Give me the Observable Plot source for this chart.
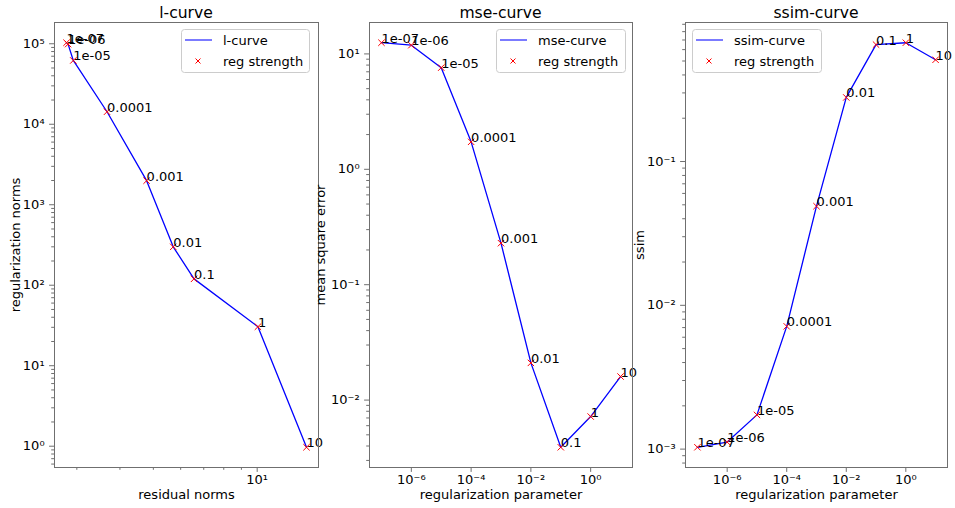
<!DOCTYPE html>
<html><head><meta charset="utf-8">
<script src="https://cdn.jsdelivr.net/npm/d3@7"></script>
<script src="https://cdn.jsdelivr.net/npm/@observablehq/plot@0.6"></script>
<style>
body{margin:0;background:#fff;font-family:"DejaVu Sans",sans-serif;}
#fig{position:relative;width:955px;height:508px;overflow:hidden;background:#fff;}
.panel{position:absolute;top:0;}
.title{position:absolute;top:6px;text-align:center;font-size:15.6px;line-height:15.6px;color:#000;white-space:nowrap;}
.legend{position:absolute;}
.legend text{font-family:"DejaVu Sans",sans-serif;font-size:13px;fill:#000;}
</style></head><body><div id="fig"></div>
<script>
// ---- data ----
const pointLabels = ["1e-07","1e-06","1e-05","0.0001","0.001","0.01","0.1","1","10"];
const lambdas = [1e-7, 1e-6, 1e-5, 1e-4, 1e-3, 1e-2, 1e-1, 1, 10];
const residualNorms = [2.80, 2.83, 2.93, 3.67, 4.78, 5.71, 6.56, 10.05, 13.9];
const regularizationNorms = [103000, 99000, 62000, 14300, 1990, 300, 120, 30.5, 0.97];
const mse = [12.5, 11.9, 7.6, 1.73, 0.229, 0.021, 0.0039, 0.0072, 0.016];
const ssim = [0.00103, 0.00112, 0.00173, 0.00714, 0.0489, 0.279, 0.65, 0.67, 0.51];

const panelTitles = ["l-curve", "mse-curve", "ssim-curve"];
const xLabels = ["residual norms", "regularization parameter", "regularization parameter"];
const yLabels = ["regularization norms", "mean square error", "ssim"];
const markerName = "reg strength";
const majorXTicks = [[10], [1e-6, 1e-4, 1e-2, 1], [1e-6, 1e-4, 1e-2, 1]];
const majorYTicks = [[1, 10, 100, 1e3, 1e4, 1e5], [1e-2, 1e-1, 1, 10], [1e-3, 1e-2, 1e-1]];
const showMinorX = [true, false, false];

// ---- layout ----
const panelLeft = [0, 315, 631];
const frameWidth = [264, 263, 262];
const mL = 54, mR = 2, mT = 22, mB = 41, H = 508;
const axisColor = "#6f6f6f";
const yLabelOffset = [44, 54, 51];
const legendBox = [[181, 29, 129], [496, 29, 130], [692, 29, 130]];

const sup = {"-":"\u207B","0":"\u2070","1":"\u00B9","2":"\u00B2","3":"\u00B3","4":"\u2074","5":"\u2075","6":"\u2076","7":"\u2077","8":"\u2078","9":"\u2079"};
const fmt = v => "10" + String(Math.round(Math.log10(v))).split("").map(c => sup[c]).join("");

function padLog(vals) {
  const lo = Math.log10(d3.min(vals)), hi = Math.log10(d3.max(vals));
  const p = 0.05 * (hi - lo);
  return [Math.pow(10, lo - p), Math.pow(10, hi + p)];
}
function minorTicks(domain) {
  const out = [];
  const a = Math.floor(Math.log10(domain[0])), b = Math.ceil(Math.log10(domain[1]));
  for (let k = a; k <= b; k++) for (let m = 2; m <= 9; m++) {
    const v = m * Math.pow(10, k);
    if (v >= domain[0] && v <= domain[1]) out.push(v);
  }
  return out;
}

const fig = document.getElementById("fig");
const xsAll = [residualNorms, lambdas, lambdas];
const ysAll = [regularizationNorms, mse, ssim];

for (let i = 0; i < 3; i++) {
  const xs = xsAll[i], ys = ysAll[i];
  const data = pointLabels.map((label, j) => ({label, x: xs[j], y: ys[j]}));
  const xd = padLog(xs), yd = padLog(ys);
  const chart = Plot.plot({
    width: mL + frameWidth[i] + mR,
    height: H,
    marginLeft: mL, marginRight: mR, marginTop: mT, marginBottom: mB,
    x: {type: "log", domain: xd},
    y: {type: "log", domain: yd},
    style: {fontFamily: "DejaVu Sans", fontSize: "13px", overflow: "visible", background: "transparent", color: "#000"},
    marks: [
      showMinorX[i] ? Plot.axisX(minorTicks(xd), {tickSize: 2.8, tickFormat: () => "", stroke: axisColor, label: null}) : null,
      Plot.axisX(majorXTicks[i], {tickSize: 4.9, tickPadding: 2, tickFormat: fmt, stroke: axisColor, fill: "#000",
        label: xLabels[i], labelAnchor: "center", labelArrow: "none", labelOffset: 31}),
      Plot.axisY(minorTicks(yd), {tickSize: 2.8, tickFormat: () => "", stroke: axisColor, label: null}),
      Plot.axisY(majorYTicks[i], {tickSize: 4.9, tickPadding: 5, tickFormat: fmt, stroke: axisColor, fill: "#000",
        label: yLabels[i], labelAnchor: "center", labelArrow: "none", labelOffset: yLabelOffset[i]}),
      Plot.line(data, {x: "x", y: "y", stroke: "#0000ff", strokeWidth: 1.3}),
      Plot.dot(data, {x: "x", y: "y", symbol: "times", r: 3, stroke: "#ff0000", strokeWidth: 1}),
      Plot.text(data, {x: "x", y: "y", text: "label", textAnchor: "start", lineAnchor: "bottom", fill: "#000"}),
      Plot.frame({stroke: axisColor})
    ]
  });
  const wrap = document.createElement("div");
  wrap.className = "panel";
  wrap.style.left = panelLeft[i] + "px";
  wrap.appendChild(chart);
  fig.appendChild(wrap);

  const t = document.createElement("div");
  t.className = "title";
  t.style.left = (panelLeft[i] + mL) + "px";
  t.style.width = frameWidth[i] + "px";
  t.textContent = panelTitles[i];
  fig.appendChild(t);

  const [lx, ly, lw] = legendBox[i];
  const lg = document.createElement("div");
  lg.className = "legend";
  lg.style.left = lx + "px";
  lg.style.top = ly + "px";
  lg.innerHTML = `<svg width="${lw}" height="44" style="display:block">
    <rect x="0.5" y="0.5" width="${lw - 1}" height="43" rx="3" fill="#fff" fill-opacity="0.8" stroke="#cccccc"/>
    <line x1="4" x2="31" y1="11" y2="11" stroke="#0000ff" stroke-width="1.3" stroke-opacity="0.8"/>
    <path d="M14.5,29.5l5,5M19.5,29.5l-5,5" stroke="#ff0000" stroke-width="1" fill="none"/>
    <text x="42" y="11" dy="0.36em">${panelTitles[i]}</text>
    <text x="42" y="32" dy="0.36em">${markerName}</text>
  </svg>`;
  fig.appendChild(lg);
}
</script></body></html>
